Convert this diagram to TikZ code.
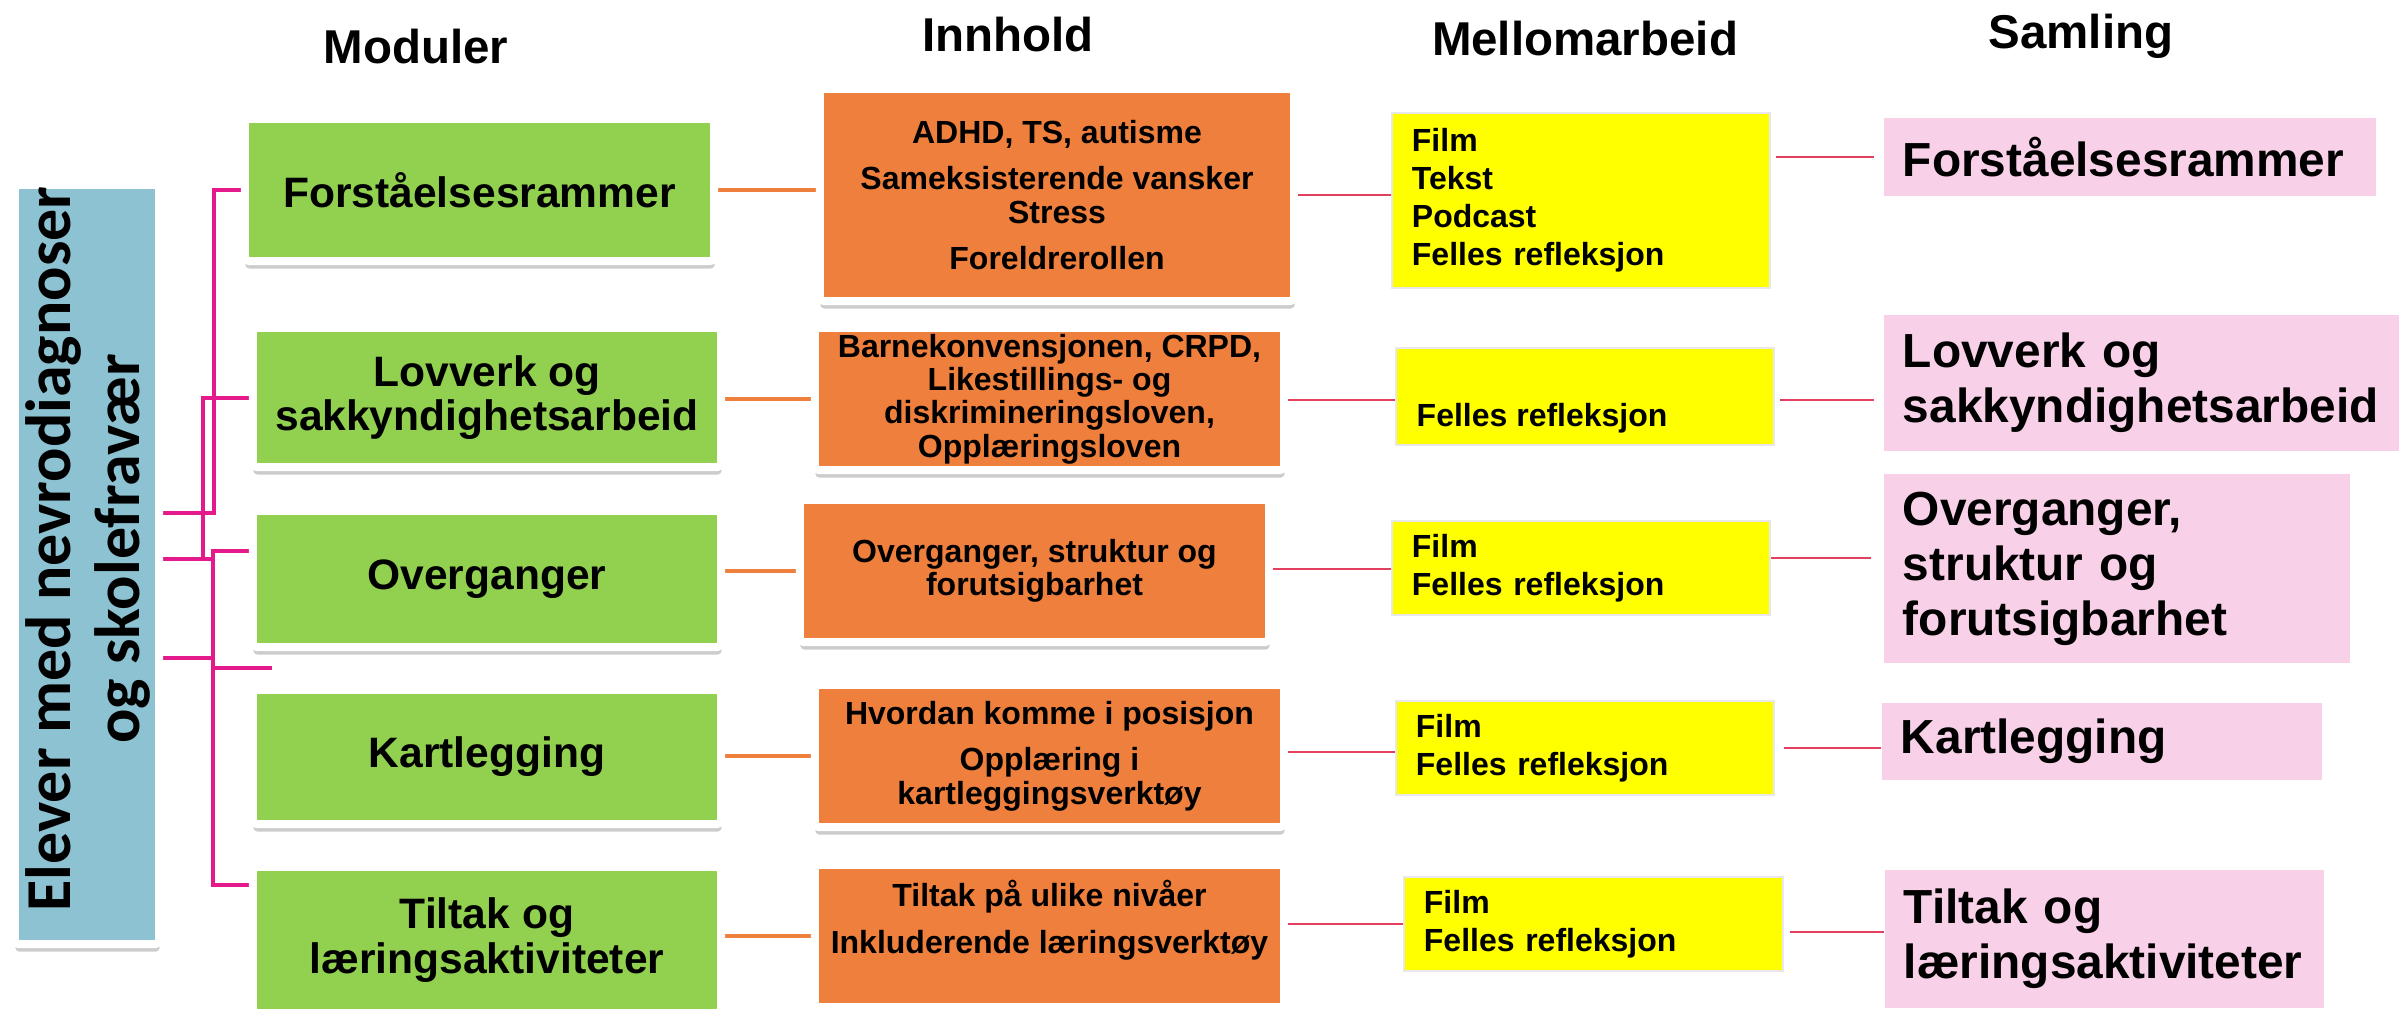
\documentclass[tikz,border=0pt]{standalone}
\usepackage{fontspec}
\setmainfont{Liberation Sans}
\newfontfamily\blufont{Carlito}
\usetikzlibrary{shadows}
\definecolor{bluefill}{HTML}{8CC2D2}
\definecolor{greenfill}{HTML}{92D050}
\definecolor{orangefill}{HTML}{EF7F3C}
\definecolor{yellowfill}{HTML}{FFFF00}
\definecolor{pinkfill}{HTML}{F8D0E7}
\definecolor{magline}{HTML}{E3198C}
\definecolor{redline}{HTML}{E2405E}
\pgfdeclarelayer{bg}
\pgfsetlayers{bg,main}
\begin{document}
\begin{tikzpicture}[x=0.01cm,y=-0.01cm,
  framed/.style={draw=white, line width=0.08cm, inner sep=0pt, rounded corners=0.04cm,
    drop shadow={shadow xshift=0.005cm, shadow yshift=-0.075cm, opacity=0.2, fill=black}},
  bluebox/.style={framed, fill=bluefill},
  bluetext/.style={font=\blufont\bfseries\fontsize{18.2}{19.6}\selectfont, align=center, rotate=90, inner sep=0pt},
  greenbox/.style={framed, fill=greenfill, align=center, font=\bfseries\fontsize{12.1}{12.6}\selectfont},
  orangebox/.style={framed, fill=orangefill, align=center, font=\bfseries\fontsize{9.1}{9.5}\selectfont},
  otext/.style={align=center, inner sep=0pt, font=\bfseries\fontsize{9.1}{9.5}\selectfont},
  yellowbox/.style={fill=yellowfill, draw=black!9, line width=0.02cm, inner xsep=0.2cm, inner ysep=0pt, align=left, font=\bfseries\fontsize{9.1}{10.8}\selectfont},
  ytext/.style={inner sep=0pt, font=\bfseries\fontsize{9.1}{10.8}\selectfont},
  pinkbox/.style={fill=pinkfill, inner xsep=0.19cm, inner ysep=0pt, align=left, font=\bfseries\fontsize{13.6}{15.6}\selectfont},
  hdr/.style={inner sep=0pt, anchor=base, font=\bfseries\fontsize{13.5}{16}\selectfont},
  magl/.style={draw=magline, line width=0.04cm},
  orl/.style={draw=orangefill, line width=0.045cm},
  redl/.style={draw=redline, line width=0.025cm}
]
\useasboundingbox (0,0) rectangle (2399,1008);

% headers
\node[hdr] (h1) at (416,63) {Moduler};
\node[hdr] (h2) at (1008,51) {Innhold};
\node[hdr] (h3) at (1585,55) {Mellomarbeid};
\node[hdr] (h4) at (2081,48) {Samling};

% left box
\node[bluebox, minimum width=1.44cm, minimum height=7.59cm] (blue) at (87,564.5) {};
\node[bluetext] (bluet) at (88,549) {Elever med nevrodiagnoser\\og skolefravær};

% green modules
\node[greenbox, minimum width=4.69cm, minimum height=1.42cm] (g1) at (479.5,190) {Forståelsesrammer};
\node[greenbox, minimum width=4.68cm, minimum height=1.39cm] (g2) at (487,397.5) {Lovverk og\\sakkyndighetsarbeid};
\node[greenbox, minimum width=4.68cm, minimum height=1.36cm] (g3) at (487,579) {Overganger};
\node[greenbox, minimum width=4.68cm, minimum height=1.34cm] (g4) at (487,757) {Kartlegging};
\node[greenbox, minimum width=4.68cm, minimum height=1.46cm] (g5) at (487,940) {Tiltak og\\læringsaktiviteter};

% orange content
\node[orangebox, minimum width=4.74cm, minimum height=2.12cm] (o1) at (1057,195)
  {ADHD, TS, autisme\\[3.7pt]Sameksisterende vansker\\Stress\\[3.7pt]Foreldrerollen};
\node[orangebox, minimum width=4.69cm, minimum height=1.42cm] (o2) at (1049.5,399)
  {Barnekonvensjonen, CRPD,\\Likestillings- og\\diskrimineringsloven,\\Opplæringsloven};
\node[orangebox, minimum width=4.69cm, minimum height=1.42cm] (o3) at (1034.5,571)
  {Overganger, struktur og\\forutsigbarhet};
\node[orangebox, minimum width=4.69cm, minimum height=1.42cm] (o4) at (1049.5,756)
  {Hvordan komme i posisjon\\[3.7pt]Opplæring i\\kartleggingsverktøy};
\node[orangebox, minimum width=4.69cm, minimum height=1.42cm] (o5) at (1049.5,936) {};
\node[otext] (o5t) at (1049.5,920) {Tiltak på ulike nivåer\\[3.7pt]Inkluderende læringsverktøy};

% yellow intermediate work
\node[yellowbox, text width=3.38cm, minimum height=1.75cm] (y1) at (1581,200.5)
  {Film\\Tekst\\Podcast\\Felles refleksjon};
\node[yellowbox, text width=3.38cm, minimum height=0.97cm] (y2) at (1585,396.5) {};
\node[ytext, anchor=west] (y2t) at (1416,418) {Felles refleksjon};
\node[yellowbox, text width=3.38cm, minimum height=0.94cm] (y3) at (1581,568) {Film\\Felles refleksjon};
\node[yellowbox, text width=3.38cm, minimum height=0.94cm] (y4) at (1585,748) {Film\\Felles refleksjon};
\node[yellowbox, text width=3.39cm, minimum height=0.94cm] (y5) at (1593.5,924) {Film\\Felles refleksjon};

% pink sessions
\node[pinkbox, text width=4.54cm, minimum height=0.78cm] (p1) at (2130,157) {Forståelsesrammer};
\node[pinkbox, text width=4.82cm, minimum height=1.36cm] (p2) at (2144,383) {Lovverk og\\sakkyndighetsarbeid};
\node[pinkbox, text width=4.28cm, minimum height=1.89cm] (p3) at (2117,568.5) {Overganger,\\struktur og\\forutsigbarhet};
\node[pinkbox, text width=4.02cm, minimum height=0.77cm] (p4) at (2102,741.5) {Kartlegging};
\node[pinkbox, text width=4.01cm, minimum height=1.38cm] (p5) at (2104.5,939) {Tiltak og\\læringsaktiviteter};

\coordinate (stub) at (272,668);

\begin{pgfonlayer}{bg}
% magenta tree
\draw[magl] (blue.east |- 0,513) -| (214,190) -- (g1.west);
\draw[magl] (blue.east |- 0,559) -- (213,559);
\draw[magl] (203,559) |- (g2.west);
\draw[magl] (blue.east |- 0,658) -- (213,658);
\draw[magl] (g3.west |- 0,551) -| (213,885) -- (g5.west |- 0,885);
\draw[magl] (213,668) -- (stub);
% green -> orange
\draw[orl] (g1.east) -- (g1.east -| o1.west);
\draw[orl] (g2.east |- o2.west) -- (o2.west);
\draw[orl] (g3.east |- o3.west) -- (o3.west);
\draw[orl] (g4.east |- o4.west) -- (o4.west);
\draw[orl] (g5.east |- o5.west) -- (o5.west);
\end{pgfonlayer}

% orange -> yellow
\draw[redl] (o1.east |- 0,195) -- (y1.west |- 0,195);
\draw[redl] (o2.east |- 0,400) -- (y2.west |- 0,400);
\draw[redl] (o3.east |- 0,569) -- (y3.west |- 0,569);
\draw[redl] (o4.east |- 0,752) -- (y4.west |- 0,752);
\draw[redl] (o5.east |- 0,924) -- (y5.west |- 0,924);
% yellow -> pink
\draw[redl, shorten <=0.05cm, shorten >=0.09cm] (y1.east |- 0,157) -- (p1.west |- 0,157);
\draw[redl, shorten <=0.05cm, shorten >=0.09cm] (y2.east |- 0,400) -- (p2.west |- 0,400);
\draw[redl, shorten >=0.12cm] (y3.east |- 0,558) -- (p3.west |- 0,558);
\draw[redl, shorten <=0.09cm] (y4.east |- 0,748) -- (p4.west |- 0,748);
\draw[redl, shorten <=0.06cm] (y5.east |- 0,932) -- (p5.west |- 0,932);
\end{tikzpicture}
\end{document}
